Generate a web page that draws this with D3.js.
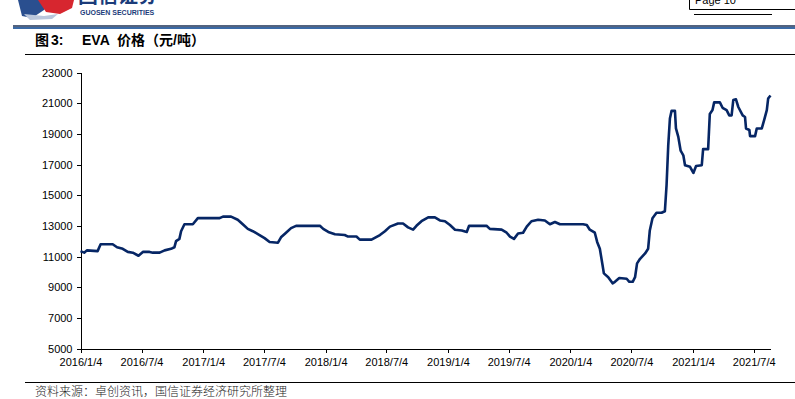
<!DOCTYPE html>
<html>
<head>
<meta charset="utf-8">
<script src="https://cdn.jsdelivr.net/npm/d3@7"></script>
<style>
  body { margin: 0; background: #fff; }
  svg { display: block; }
  .axis text { font-family: "Liberation Sans", Arial, sans-serif; font-size: 11px; fill: #000; }
  .axis path, .axis line { stroke: #000; stroke-width: 1; shape-rendering: crispEdges; }
</style>
</head>
<body>
<svg id="chart" width="795" height="399"></svg>
<script>
// EVA price, yuan/ton (weekly)
var dates = [
  "2016-01-04","2016-01-15","2016-01-23","2016-02-24","2016-03-04","2016-04-09","2016-04-22","2016-05-09",
  "2016-05-24","2016-06-08","2016-06-25","2016-07-08","2016-07-28","2016-08-07","2016-08-27","2016-09-11",
  "2016-09-30","2016-10-10","2016-10-15","2016-10-25","2016-10-30","2016-11-09","2016-12-04","2016-12-19",
  "2017-02-22","2017-03-04","2017-03-28","2017-04-17","2017-05-02","2017-05-17","2017-06-01","2017-06-21",
  "2017-07-06","2017-07-21","2017-08-15","2017-08-24","2017-09-08","2017-09-23","2017-10-08","2017-12-18",
  "2017-12-28","2018-01-12","2018-02-01","2018-03-02","2018-03-12","2018-04-06","2018-04-16","2018-05-21",
  "2018-06-15","2018-06-30","2018-07-15","2018-08-08","2018-08-23","2018-09-07","2018-09-22","2018-10-02",
  "2018-10-17","2018-11-06","2018-11-26","2018-12-11","2018-12-26","2019-01-10","2019-01-25","2019-02-14",
  "2019-03-01","2019-03-08","2019-04-29","2019-05-09","2019-06-13","2019-06-28","2019-07-08","2019-07-20",
  "2019-08-01","2019-08-16","2019-08-27","2019-09-10","2019-09-30","2019-10-20","2019-11-04","2019-11-19",
  "2019-12-04","2020-02-11","2020-02-22","2020-03-02","2020-03-17","2020-03-24","2020-04-01","2020-04-09",
  "2020-04-13","2020-04-26","2020-05-09","2020-05-16","2020-05-29","2020-06-20","2020-06-28","2020-07-08",
  "2020-07-15","2020-07-21","2020-07-30","2020-08-14","2020-08-23","2020-08-28","2020-09-05","2020-09-17",
  "2020-10-02","2020-10-12","2020-10-17","2020-10-22","2020-10-27","2020-11-01","2020-11-11","2020-11-14",
  "2020-11-21","2020-11-28","2020-12-06","2020-12-11","2020-12-26","2021-01-05","2021-01-13","2021-01-30",
  "2021-02-03","2021-02-18","2021-02-23","2021-03-03","2021-03-08","2021-03-25","2021-04-02","2021-04-14",
  "2021-04-22","2021-04-29","2021-05-04","2021-05-12","2021-05-19","2021-06-01","2021-06-08","2021-06-11",
  "2021-06-21","2021-06-23","2021-07-08","2021-07-13","2021-07-28","2021-08-04","2021-08-12","2021-08-16",
  "2021-08-23"
];
var prices = [
  11350,11250,11400,11350,11800,11800,11600,11500,
  11300,11250,11050,11300,11300,11250,11250,11400,
  11500,11600,12000,12150,12650,13100,13100,13500,
  13500,13600,13600,13400,13100,12800,12650,12400,
  12200,11950,11900,12250,12550,12850,13000,13000,
  12800,12600,12450,12400,12300,12300,12100,12100,
  12400,12650,12950,13150,13150,12900,12750,13000,
  13300,13550,13550,13350,13300,13050,12750,12700,
  12600,13000,13000,12800,12750,12550,12300,12150,
  12500,12550,12950,13300,13400,13350,13100,13250,
  13100,13100,13050,12750,12550,11950,11500,10450,
  9900,9650,9250,9350,9600,9550,9350,9350,
  9650,10550,10850,11200,11500,12700,13500,13850,
  13850,13950,15650,18250,20000,20500,20500,19350,
  18800,17900,17600,16950,16850,16450,16900,16950,
  18000,18000,20300,20550,21050,21050,20700,20550,
  20200,20200,21200,21250,20750,20200,20100,19350,
  19250,18850,18850,19350,19350,19900,20550,21300,
  21500
];
var xTicks = ["2016-01-04","2016-07-04","2017-01-04","2017-07-04","2018-01-04","2018-07-04",
  "2019-01-04","2019-07-04","2020-01-04","2020-07-04","2021-01-04","2021-07-04"];
var yTicks = [5000,7000,9000,11000,13000,15000,17000,19000,21000,23000];

var sourceText = "资料来源：卓创资讯，国信证券经济研究所整理";

var parse = d3.timeParse("%Y-%m-%d");
var data = dates.map(function(d, i) { return { date: parse(d), value: prices[i] }; });

var svg = d3.select("#chart");

// header -------------------------------------------------------
var logo = svg.append("g");
logo.append("path").attr("d", "M18,0 L52,0 L44,10 L32,18 L22,16 Z").attr("fill", "#2a4f8f");
logo.append("path").attr("d", "M38,0 L74,0 L72,8 L60,14 L46,12 Z").attr("fill", "#d7262f");
logo.append("path").attr("d", "M24,14 L44,16 L58,14 L52,19 L30,20 Z").attr("fill", "#b9c6dc");
logo.append("text").attr("x", 78).attr("y", 3)
  .style("font-family", "'Noto Sans CJK SC', sans-serif").style("font-weight", "bold")
  .style("font-size", "20px").style("fill", "#1b3c7a").text("国信证券");
logo.append("text").attr("x", 80).attr("y", 15)
  .style("font-family", "'Liberation Sans', Arial, sans-serif").style("font-weight", "bold")
  .style("font-size", "7px").style("fill", "#1b3c7a").text("GUOSEN SECURITIES");

// page box top right
svg.append("path").attr("d", "M689.5,0 L689.5,9.5 L795,9.5").attr("fill", "none").attr("stroke", "#000");
svg.append("text").attr("x", 695).attr("y", 4)
  .style("font-family", "'Liberation Sans', Arial, sans-serif").style("font-size", "11px")
  .text("Page   10");
svg.append("line").attr("x1", 694).attr("x2", 772).attr("y1", 14.5).attr("y2", 14.5)
  .attr("stroke", "#000").attr("stroke-width", 1);

// thick blue rule
svg.append("line").attr("x1", 13).attr("x2", 795).attr("y1", 26).attr("y2", 26)
  .attr("stroke", "#1a2f55").attr("stroke-width", 1.5);
svg.append("line").attr("x1", 13).attr("x2", 795).attr("y1", 28).attr("y2", 28)
  .attr("stroke", "#3b6aa6").attr("stroke-width", 2);

// title
var title = svg.append("text").attr("y", 45)
  .style("font-family", "'Liberation Sans', 'Noto Sans CJK SC', sans-serif")
  .style("font-weight", "bold").style("font-size", "14px").style("fill", "#000");
title.append("tspan").attr("x", 35).text("图");
title.append("tspan").attr("x", 51).text("3:");
title.append("tspan").attr("x", 82).text("EVA");
title.append("tspan").attr("x", 117).text("价格（元/吨）");
svg.append("line").attr("x1", 25).attr("x2", 795).attr("y1", 54.5).attr("y2", 54.5)
  .attr("stroke", "#000").attr("stroke-width", 1);

// footer
svg.append("line").attr("x1", 25).attr("x2", 795).attr("y1", 382.5).attr("y2", 382.5)
  .attr("stroke", "#000").attr("stroke-width", 1);
svg.append("text").attr("x", 35).attr("y", 396)
  .style("font-family", "'Noto Sans CJK SC', sans-serif").style("font-size", "12px")
  .style("font-weight", "300").style("fill", "#222")
  .text(sourceText);

// chart --------------------------------------------------------
var xScale = d3.scaleTime()
  .domain([parse(dates[0]), parse(dates[dates.length - 1])])
  .range([80.5, 770.5]);

var yScale = d3.scaleLinear()
  .domain([5000, 23000])
  .range([348.5, 72.5]);

var xAxis = d3.axisBottom(xScale)
  .tickValues(xTicks.map(parse))
  .tickFormat(d3.timeFormat("%Y/%-m/%-d"))
  .tickSize(4)
  .tickSizeOuter(0)
  .tickPadding(6);

var yAxis = d3.axisLeft(yScale)
  .tickValues(yTicks)
  .tickFormat(d3.format("d"))
  .tickSize(4)
  .tickSizeOuter(0)
  .tickPadding(4);

svg.append("g").attr("class", "axis")
  .attr("transform", "translate(0,348.5)")
  .call(xAxis);

svg.append("g").attr("class", "axis")
  .attr("transform", "translate(80.5,0)")
  .call(yAxis);

var line = d3.line()
  .x(function(d) { return xScale(d.date); })
  .y(function(d) { return yScale(d.value); });

svg.append("path")
  .datum(data)
  .attr("fill", "none")
  .attr("stroke", "#062665")
  .attr("stroke-width", 2.6)
  .attr("stroke-linejoin", "round")
  .attr("d", line);
</script>
</body>
</html>
